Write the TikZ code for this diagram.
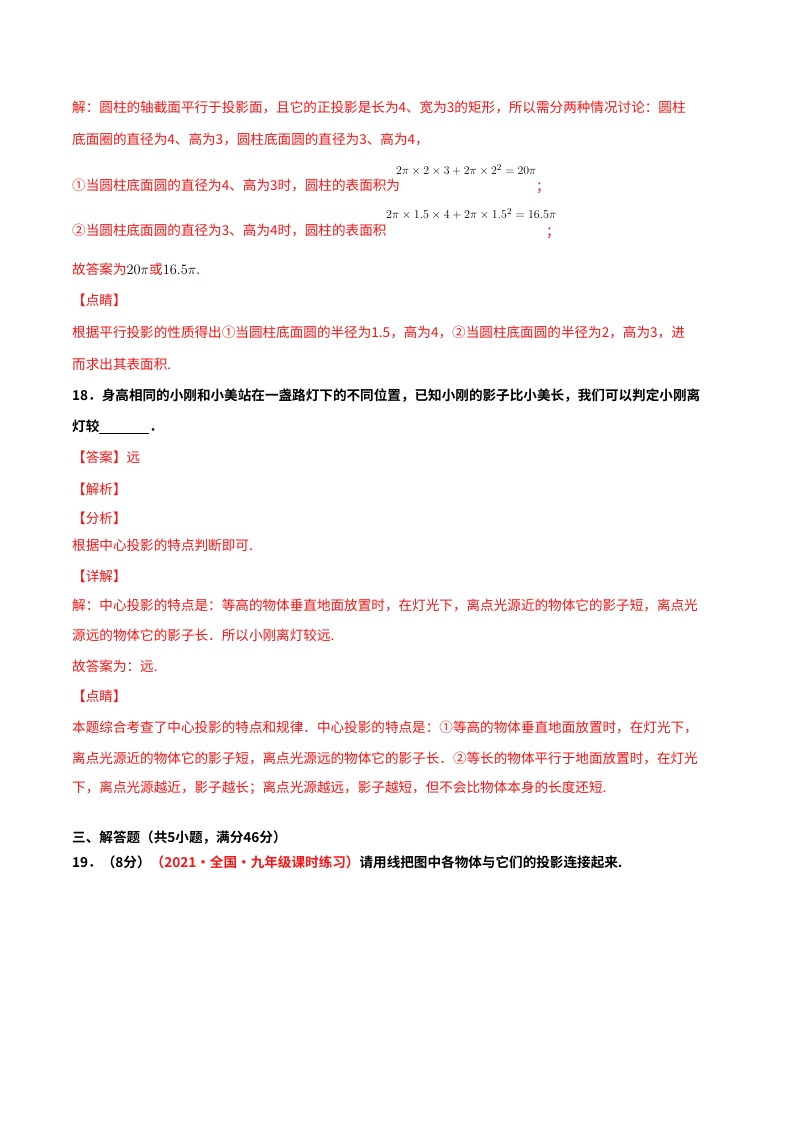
\documentclass[tikz,border=0pt]{standalone}
\usepackage{fontspec}
\usepackage{graphicx}
\setmainfont{Liberation Serif}
\newfontfamily\cjk{Noto Sans CJK SC}
\newfontfamily\cjkb{Noto Sans CJK SC Bold}
\definecolor{ered}{RGB}{250,20,20}
\begin{document}
\begin{tikzpicture}[x=1pt,y=-1pt,
  t/.style={anchor=west,inner sep=0pt,font=\cjk\fontsize{13.6}{14}\selectfont,text=ered},
  b/.style={anchor=west,inner sep=0pt,font=\cjkb\fontsize{13.6}{14}\selectfont,text=black},
  f/.style={anchor=west,inner sep=0pt,font=\fontsize{13}{14}\selectfont,text=black}]
\useasboundingbox[fill=white] (0,0) rectangle (800,1132);
\node[t] (l1) at (72,107) {解：圆柱的轴截面平行于投影面，且它的正投影是长为4、宽为3的矩形，所以需分两种情况讨论：圆柱};
\node[t] (l2) at (72,139) {底面圈的直径为4、高为3，圆柱底面圆的直径为3、高为4，};
\node[t] (l3) at (72,185) {①当圆柱底面圆的直径为4、高为3时，圆柱的表面积为};
\node[f] (m1) at (396,170) {\resizebox{140pt}{!}{$2\pi\times2\times3+2\pi\times2^2=20\pi$}};
\node[t] (s1) at (536,188) {；};
\node[t] (l4) at (72,230) {②当圆柱底面圆的直径为3、高为4时，圆柱的表面积};
\node[f] (m2) at (386,214) {\resizebox{170pt}{!}{$2\pi\times1.5\times4+2\pi\times1.5^2=16.5\pi$}};
\node[t] (s2) at (546,233) {；};
\node[t] (l5) at (72,269) {故答案为\textcolor{black}{\fontsize{14}{15}\selectfont$20\pi$}或\textcolor{black}{\fontsize{14}{15}\selectfont$16.5\pi$}.};
\node[t] (l6) at (72,300) {【点睛】};
\node[t] (l7) at (72,332) {根据平行投影的性质得出①当圆柱底面圆的半径为1.5，高为4，②当圆柱底面圆的半径为2，高为3，进};
\node[t] (l8) at (72,364) {而求出其表面积.};
\node[b] (q1) at (72,396) {18．身高相同的小刚和小美站在一盏路灯下的不同位置，已知小刚的影子比小美长，我们可以判定小刚离};
\node[b] (q2) at (72,427) {灯较\underline{\hspace{50pt}}．};
\node[t] (a1) at (72,457) {【答案】远};
\node[t] (a2) at (72,489) {【解析】};
\node[t] (a3) at (72,518) {【分析】};
\node[t] (a4) at (72,545) {根据中心投影的特点判断即可.};
\node[t] (a5) at (72,576) {【详解】};
\node[t] (a6) at (72,605) {解：中心投影的特点是：等高的物体垂直地面放置时，在灯光下，离点光源近的物体它的影子短，离点光};
\node[t] (a7) at (72,635) {源远的物体它的影子长．所以小刚离灯较远.};
\node[t] (a8) at (72,666) {故答案为：远.};
\node[t] (a9) at (72,696) {【点睛】};
\node[t] (a10) at (72,727) {本题综合考查了中心投影的特点和规律．中心投影的特点是：①等高的物体垂直地面放置时，在灯光下，};
\node[t] (a11) at (72,758) {离点光源近的物体它的影子短，离点光源远的物体它的影子长．②等长的物体平行于地面放置时，在灯光};
\node[t] (a12) at (72,788) {下，离点光源越近，影子越长；离点光源越远，影子越短，但不会比物体本身的长度还短.};
\node[b] (h1) at (72,838) {三、解答题（共5小题，满分46分）};
\node[b] (h2) at (72,862) {19．（8分）\textcolor{ered}{（2021·全国·九年级课时练习）}请用线把图中各物体与它们的投影连接起来.};
\end{tikzpicture}
\end{document}
